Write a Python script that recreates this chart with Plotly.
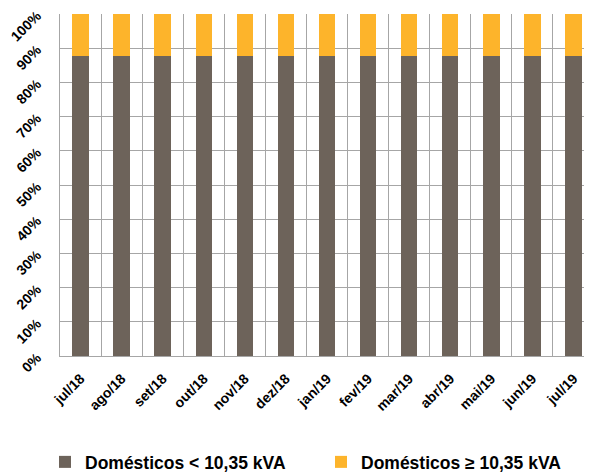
import plotly.graph_objects as go

months = ["jul/18", "ago/18", "set/18", "out/18", "nov/18", "dez/18", "jan/19",
          "fev/19", "mar/19", "abr/19", "mai/19", "jun/19", "jul/19"]
dom_lt = [87.7] * 13
dom_ge = [12.3] * 13

BROWN = "#6d635a"
YELLOW = "#fdb42b"
GRID = "#a6a6a6"
FONT = "Liberation Sans, Arial, sans-serif"

fig = go.Figure()
fig.add_trace(go.Bar(x=months, y=dom_lt, name="Domésticos < 10,35 kVA",
                     marker=dict(color=BROWN, line=dict(width=0)), width=0.4,
                     legend="legend"))
fig.add_trace(go.Bar(x=months, y=dom_ge, name="Domésticos ≥ 10,35 kVA",
                     marker=dict(color=YELLOW, line=dict(width=0)), width=0.4,
                     legend="legend2"))

legfont = dict(size=17.5, family=FONT, weight="bold")
fig.update_layout(
    barmode="stack",
    width=592, height=472, autosize=False,
    margin=dict(l=52, r=6, t=6, b=124, autoexpand=False),
    plot_bgcolor="white", paper_bgcolor="white",
    font=dict(family=FONT, color="black"),
    showlegend=True,
    legend=dict(orientation="h", xref="container", yref="container",
                x=37 / 592, xanchor="left", y=18 / 472, yanchor="middle",
                font=legfont, bgcolor="rgba(0,0,0,0)"),
    legend2=dict(orientation="h", xref="container", yref="container",
                 x=313 / 592, xanchor="left", y=18 / 472, yanchor="middle",
                 font=legfont, bgcolor="rgba(0,0,0,0)"),
    xaxis=dict(type="category", range=[-0.5, 12.5], tickson="boundaries",
               automargin=False, ticklabeloverflow="allow",
               showgrid=True, gridcolor=GRID, gridwidth=1,
               showline=True, linecolor=GRID, linewidth=1,
               ticks="", tickangle=-45, ticklabelstandoff=8,
               tickfont=dict(size=14, family=FONT, weight="bold")),
    yaxis=dict(range=[0, 100], tickvals=list(range(0, 101, 10)),
               ticktext=[f"{v}%" for v in range(0, 101, 10)],
               automargin=False, ticklabeloverflow="allow",
               showgrid=True, gridcolor=GRID, gridwidth=1,
               showline=True, linecolor=GRID, linewidth=1,
               ticks="", tickangle=-45, zeroline=False, ticklabelstandoff=19,
               tickfont=dict(size=14, family=FONT, weight="bold")),
)

fig.write_html("out.html")
